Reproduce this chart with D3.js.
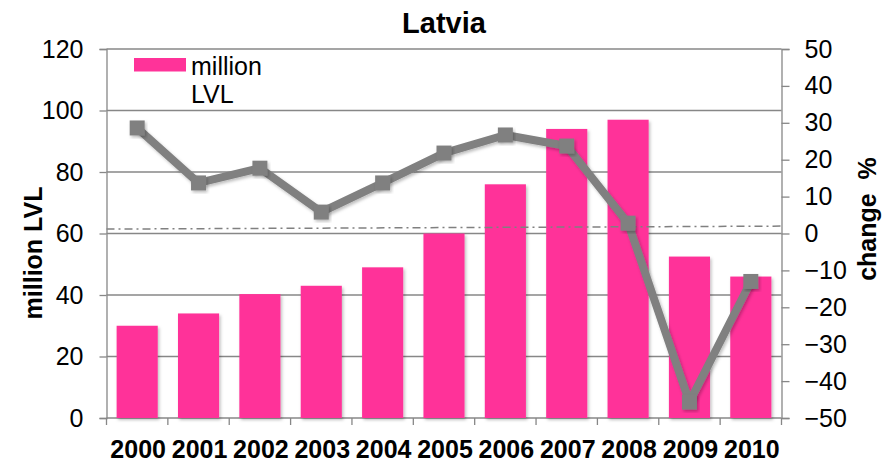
<!DOCTYPE html>
<html>
<head>
<meta charset="utf-8">
<script src="https://cdn.jsdelivr.net/npm/d3@7"></script>
<style>
  body { margin: 0; background: #fff; }
  text { font-family: "Liberation Sans", Arial, sans-serif; }
</style>
</head>
<body>
<svg id="chart"></svg>
<script>
// Chart values
const years = ["2000", "2001", "2002", "2003", "2004", "2005", "2006", "2007", "2008", "2009", "2010"];
const millionLVL = [30, 34, 40.3, 43, 49, 60, 76, 94, 97, 52.5, 46];
const changePct = [28.6, 13.7, 17.7, 5.8, 13.7, 21.8, 26.7, 23.7, 2.8, -45.7, -13];
const leftTicks = [0, 20, 40, 60, 80, 100, 120];
const rightTicks = [50, 40, 30, 20, 10, 0, -10, -20, -30, -40, -50];
const refLine = [1.2, 2.0]; // dash-dot line, start and end on the change % axis

const width = 896;
const height = 463;
const margin = { top: 49, left: 106.5, bottom: 45, right: 114.5 };
const axisColor = "#878787";
const pink = "#ff3399";
const lineGray = "#808080";
const fontSize = "25px";

const svg = d3.select("#chart")
    .attr("width", width)
    .attr("height", height);

const x = d3.scaleBand()
    .domain(years)
    .range([margin.left, width - margin.right])
    .paddingInner(0.33)
    .paddingOuter(0.165);

const yLeft = d3.scaleLinear()
    .domain([0, 120])
    .range([height - margin.bottom, margin.top]);

const yRight = d3.scaleLinear()
    .domain([-50, 50])
    .range([height - margin.bottom, margin.top]);

// soft shadow like the spreadsheet look
const defs = svg.append("defs");
const shadow = defs.append("filter").attr("id", "shadow")
    .attr("x", "-20%").attr("y", "-20%").attr("width", "140%").attr("height", "140%");
shadow.append("feDropShadow")
    .attr("dx", 1.5).attr("dy", 2).attr("stdDeviation", 1.5)
    .attr("flood-color", "#000").attr("flood-opacity", 0.25);

// Gridlines
svg.append("g")
    .selectAll("line")
    .data(leftTicks)
    .enter().append("line")
    .attr("x1", margin.left)
    .attr("x2", width - margin.right)
    .attr("y1", d => yLeft(d))
    .attr("y2", d => yLeft(d))
    .attr("stroke", axisColor)
    .attr("stroke-width", 1.3);

// Bars
svg.append("g")
    .selectAll("rect")
    .data(millionLVL)
    .enter().append("rect")
    .attr("x", (d, i) => x(years[i]))
    .attr("y", d => yLeft(d))
    .attr("width", x.bandwidth())
    .attr("height", d => yLeft(0) - yLeft(d))
    .attr("fill", pink)
    .attr("filter", "url(#shadow)");

// Dash-dot reference line
svg.append("line")
    .attr("x1", margin.left)
    .attr("x2", width - margin.right)
    .attr("y1", yRight(refLine[0]))
    .attr("y2", yRight(refLine[1]))
    .attr("stroke", lineGray)
    .attr("stroke-width", 1.5)
    .attr("stroke-dasharray", "8,4,2,4");

// Change % line
const cx = (d, i) => x(years[i]) + x.bandwidth() / 2;
const line = d3.line()
    .x(cx)
    .y(d => yRight(d));

svg.append("path")
    .attr("d", line(changePct))
    .attr("fill", "none")
    .attr("stroke", lineGray)
    .attr("stroke-width", 8)
    .attr("stroke-linejoin", "round")
    .attr("filter", "url(#shadow)");

const ms = 15;
svg.append("g")
    .selectAll("rect")
    .data(changePct)
    .enter().append("rect")
    .attr("x", (d, i) => cx(d, i) - ms / 2)
    .attr("y", d => yRight(d) - ms / 2)
    .attr("width", ms)
    .attr("height", ms)
    .attr("fill", lineGray)
    .attr("filter", "url(#shadow)");

// Axes
const leftAxis = svg.append("g")
    .attr("transform", `translate(${margin.left},0)`)
    .call(d3.axisLeft(yLeft).tickValues(leftTicks).tickSize(7).tickPadding(16));

const rightAxis = svg.append("g")
    .attr("transform", `translate(${width - margin.right},0)`)
    .call(d3.axisRight(yRight).tickValues(rightTicks).tickSize(8).tickPadding(15));

const bottomAxis = svg.append("g")
    .attr("transform", `translate(0,${height - margin.bottom})`)
    .call(d3.axisBottom(x).tickSize(0).tickPadding(22));

// year boundary ticks on the category axis
svg.append("g")
    .selectAll("line")
    .data(d3.range(years.length + 1))
    .enter().append("line")
    .attr("x1", i => margin.left + i * x.step())
    .attr("x2", i => margin.left + i * x.step())
    .attr("y1", height - margin.bottom)
    .attr("y2", height - margin.bottom + 7)
    .attr("stroke", axisColor)
    .attr("stroke-width", 1.3);

[leftAxis, rightAxis, bottomAxis].forEach(g => {
    g.select(".domain").attr("stroke", axisColor).attr("stroke-width", 1.3);
    g.selectAll(".tick line").attr("stroke", axisColor).attr("stroke-width", 1.3);
    g.selectAll("text")
        .attr("fill", "#000")
        .attr("font-size", fontSize)
        .style("font-family", "'Liberation Sans', Arial, sans-serif");
});
bottomAxis.select(".domain").remove();
bottomAxis.selectAll("text").attr("font-weight", "bold").attr("dy", "0.71em").attr("dx", "1");

// Title and axis labels
svg.append("text")
    .attr("x", 444)
    .attr("y", 33)
    .attr("text-anchor", "middle")
    .attr("font-size", "29px")
    .attr("font-weight", "bold")
    .text("Latvia");

svg.append("text")
    .attr("transform", "translate(42,253) rotate(-90)")
    .attr("text-anchor", "middle")
    .attr("font-size", fontSize)
    .attr("font-weight", "bold")
    .text("million LVL");

svg.append("text")
    .attr("transform", "translate(876,219) rotate(-90)")
    .attr("text-anchor", "middle")
    .attr("font-size", fontSize)
    .attr("font-weight", "bold")
    .attr("xml:space", "preserve")
    .text("change  %");

// Legend
const legend = svg.append("g").attr("transform", "translate(134,58)");
legend.append("rect")
    .attr("width", 52)
    .attr("height", 13.5)
    .attr("fill", pink);
legend.append("text")
    .attr("x", 57)
    .attr("y", 17)
    .attr("font-size", fontSize)
    .text("million");
legend.append("text")
    .attr("x", 57)
    .attr("y", 45)
    .attr("font-size", fontSize)
    .text("LVL");
</script>
</body>
</html>
